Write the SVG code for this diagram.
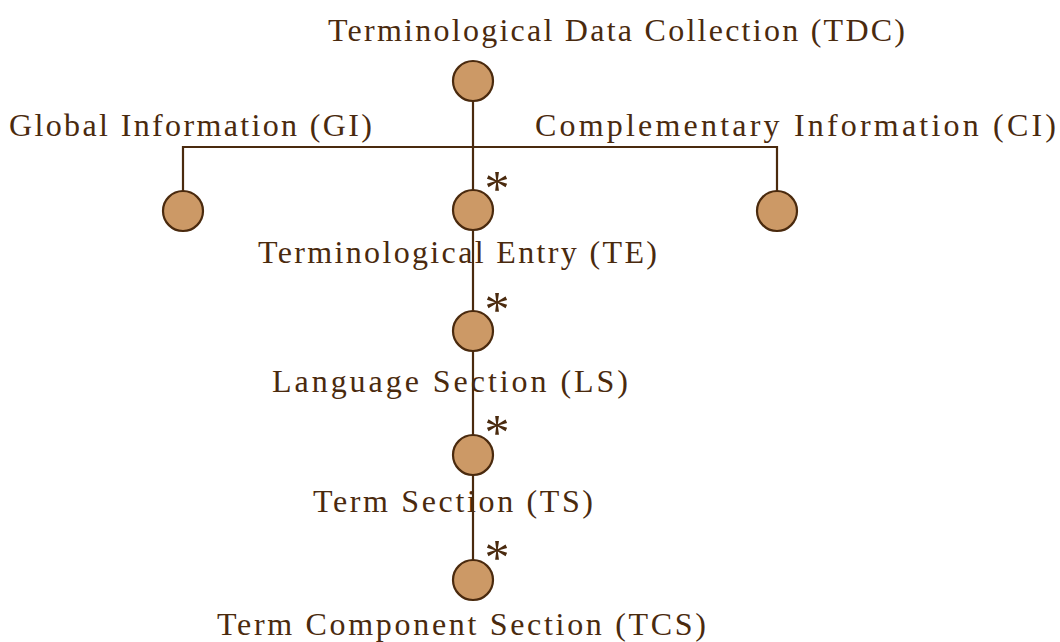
<svg xmlns="http://www.w3.org/2000/svg" width="1060" height="642" viewBox="0 0 1060 642">
<style>
.lbl{font-family:"Liberation Serif","Times New Roman",serif;font-size:32px;fill:#4a2a0e}
.ast{font-family:"Liberation Serif","Times New Roman",serif;font-size:50px;fill:#4a2a0e;text-anchor:middle}
.nd{fill:#cc9966;stroke:#4a2a0e;stroke-width:2.2}
.ln{stroke:#4a2a0e;stroke-width:2.2;fill:none}
</style>
<rect width="1060" height="642" fill="#ffffff"/>
<g id="TDC">
<circle class="nd" cx="473" cy="81" r="20"/>
<text class="lbl" x="328" y="41" textLength="577" lengthAdjust="spacing">Terminological Data Collection (TDC)</text>
</g>
<g id="GI">
<circle class="nd" cx="183" cy="211" r="20"/>
<text class="lbl" x="9" y="136" textLength="363" lengthAdjust="spacing">Global Information (GI)</text>
</g>
<g id="CI">
<circle class="nd" cx="777" cy="211" r="20"/>
<text class="lbl" x="535" y="136" textLength="521" lengthAdjust="spacing">Complementary Information (CI)</text>
</g>
<g id="TE">
<circle class="nd" cx="473" cy="210" r="20"/>
<text class="ast" x="497" y="205">*</text>
<text class="lbl" x="258" y="263" textLength="399" lengthAdjust="spacing">Terminological Entry (TE)</text>
</g>
<g id="LS">
<circle class="nd" cx="473" cy="331" r="20"/>
<text class="ast" x="497" y="326">*</text>
<text class="lbl" x="272" y="392" textLength="356" lengthAdjust="spacing">Language Section (LS)</text>
</g>
<g id="TS">
<circle class="nd" cx="473" cy="455" r="20"/>
<text class="ast" x="497" y="449">*</text>
<text class="lbl" x="313" y="512" textLength="280" lengthAdjust="spacing">Term Section (TS)</text>
</g>
<g id="TCS">
<circle class="nd" cx="473" cy="580" r="20"/>
<text class="ast" x="497" y="574">*</text>
<text class="lbl" x="217" y="635" textLength="489" lengthAdjust="spacing">Term Component Section (TCS)</text>
</g>
<g id="connectors">
<path class="ln" d="M473 101V190"/>
<path class="ln" d="M183 191V147H777V191"/>
<path class="ln" d="M473 230V311"/>
<path class="ln" d="M473 351V435"/>
<path class="ln" d="M473 475V560"/>
</g>
</svg>
